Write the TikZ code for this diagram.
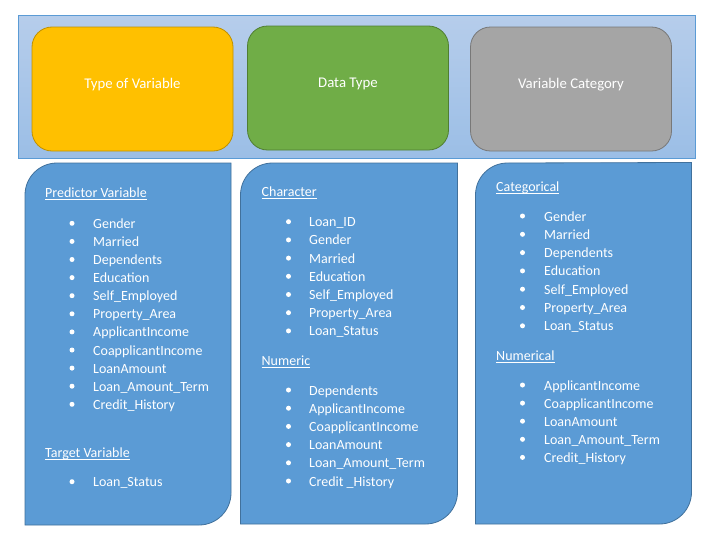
\documentclass[tikz,border=0pt]{standalone}
\usepackage{fontspec}
\setmainfont{Carlito}
\usetikzlibrary{positioning}
\definecolor{hdrTop}{RGB}{182,205,235}
\definecolor{hdrBot}{RGB}{155,190,230}
\definecolor{hdrEdge}{RGB}{91,155,213}
\definecolor{accGold}{RGB}{255,192,0}
\definecolor{edgeGold}{RGB}{191,144,0}
\definecolor{accGreen}{RGB}{112,173,71}
\definecolor{edgeGreen}{RGB}{80,126,50}
\definecolor{accGray}{RGB}{165,165,165}
\definecolor{edgeGray}{RGB}{120,120,120}
\definecolor{panBlue}{RGB}{91,155,213}
\definecolor{panEdge}{RGB}{65,113,156}
\newcommand{\hdrtext}[1]{\underline{\smash{#1}}}

\begin{document}
\begin{tikzpicture}[x=1pt, y=-1pt, font=\fontsize{14}{16}\selectfont\color{white},
    titlebox/.style={rounded corners=20pt, line width=0.8pt, minimum width=201pt, minimum height=124pt, inner sep=0pt},
    titletxt/.style={yshift=4pt, font=\fontsize{14.8}{17}\selectfont\color{white}},
    panel/.style={fill=panBlue, draw=panEdge, line width=0.8pt},
    itemtxt/.style={anchor=base west, inner sep=0pt},
    bullet/.style={fill=white}]
        \path[fill=white, use as bounding box] (0,0) rectangle (708,538);
        % header band with the three column titles
        \node[draw=hdrEdge, top color=hdrTop, bottom color=hdrBot, line width=0.8pt, minimum width=677pt, minimum height=143pt, inner sep=0pt, anchor=north west] (hdr) at (18,15) {};
        \node[titlebox, fill=accGold, draw=edgeGold] (tov) at (132.5,89) {};
        \node[titlebox, fill=accGreen, draw=edgeGreen] (dty) at (348,88) {};
        \node[titlebox, fill=accGray, draw=edgeGray] (vcat) at (571,89) {};
        \node[titletxt] (tovtxt) at (tov.center) {Type of Variable};
        \node[titletxt] (dtytxt) at (dty.center) {Data Type};
        \node[titletxt] (vcattxt) at (vcat.center) {Variable Category};
        % column panels: round top left and bottom right
        \draw[panel] (25,525) -- (25,195) arc[start angle=180, end angle=90, radius=32pt] -- (231,163) -- (231,493) arc[start angle=0, end angle=-90, radius=32pt] -- cycle;
        \draw[panel] (240.5,524) -- (240.5,195) arc[start angle=180, end angle=90, radius=32pt] -- (457.5,163) -- (457.5,492) arc[start angle=0, end angle=-90, radius=32pt] -- cycle;
        \draw[panel] (475.5,524) -- (475.5,195) arc[start angle=180, end angle=90, radius=32pt] -- (691.5,162.5) -- (691.5,492) arc[start angle=0, end angle=-90, radius=32pt] -- cycle;
        % type of variable
        \node[itemtxt] (pred) at (45,197.7) {\hdrtext{Predictor Variable}};
        \foreach \lbl [count=\i from 0] in {Gender, Married, Dependents, Education, Self\_Employed, Property\_Area, ApplicantIncome, CoapplicantIncome, LoanAmount, Loan\_Amount\_Term, Credit\_History} {
            \fill[bullet] (72,223.3+\i*18.1) circle (2.5pt);
            \node[itemtxt] (pv-\i) at (93,228.3+\i*18.1) {\lbl};
        }
        \node[itemtxt] (targ) at (45,457.7) {\hdrtext{Target Variable}};
        \fill[bullet] (72,481.7) circle (2.5pt);
        \node[itemtxt] (tv-0) at (93,486.7) {Loan\_Status};
        % data type
        \node[itemtxt] (chr) at (261.5,196.7) {\hdrtext{Character}};
        \foreach \lbl [count=\i from 0] in {Loan\_ID, Gender, Married, Education, Self\_Employed, Property\_Area, Loan\_Status} {
            \fill[bullet] (288.5,221.7+\i*18.2) circle (2.5pt);
            \node[itemtxt] (ch-\i) at (309,226.7+\i*18.2) {\lbl};
        }
        \node[itemtxt] (num) at (261.5,365.7) {\hdrtext{Numeric}};
        \foreach \lbl [count=\i from 0] in {Dependents, ApplicantIncome, CoapplicantIncome, LoanAmount, Loan\_Amount\_Term, Credit \_History} {
            \fill[bullet] (288.5,390+\i*18.2) circle (2.5pt);
            \node[itemtxt] (nu-\i) at (309,395+\i*18.2) {\lbl};
        }
        % variable category
        \node[itemtxt] (cat) at (496,191.7) {\hdrtext{Categorical}};
        \foreach \lbl [count=\i from 0] in {Gender, Married, Dependents, Education, Self\_Employed, Property\_Area, Loan\_Status} {
            \fill[bullet] (522.5,216+\i*18.3) circle (2.5pt);
            \node[itemtxt] (ca-\i) at (544,221+\i*18.3) {\lbl};
        }
        \node[itemtxt] (numl) at (496,360.7) {\hdrtext{Numerical}};
        \foreach \lbl [count=\i from 0] in {ApplicantIncome, CoapplicantIncome, LoanAmount, Loan\_Amount\_Term, Credit\_History} {
            \fill[bullet] (522.5,385+\i*18.1) circle (2.5pt);
            \node[itemtxt] (nl-\i) at (544,390+\i*18.1) {\lbl};
        }
    \end{tikzpicture}
\end{document}
